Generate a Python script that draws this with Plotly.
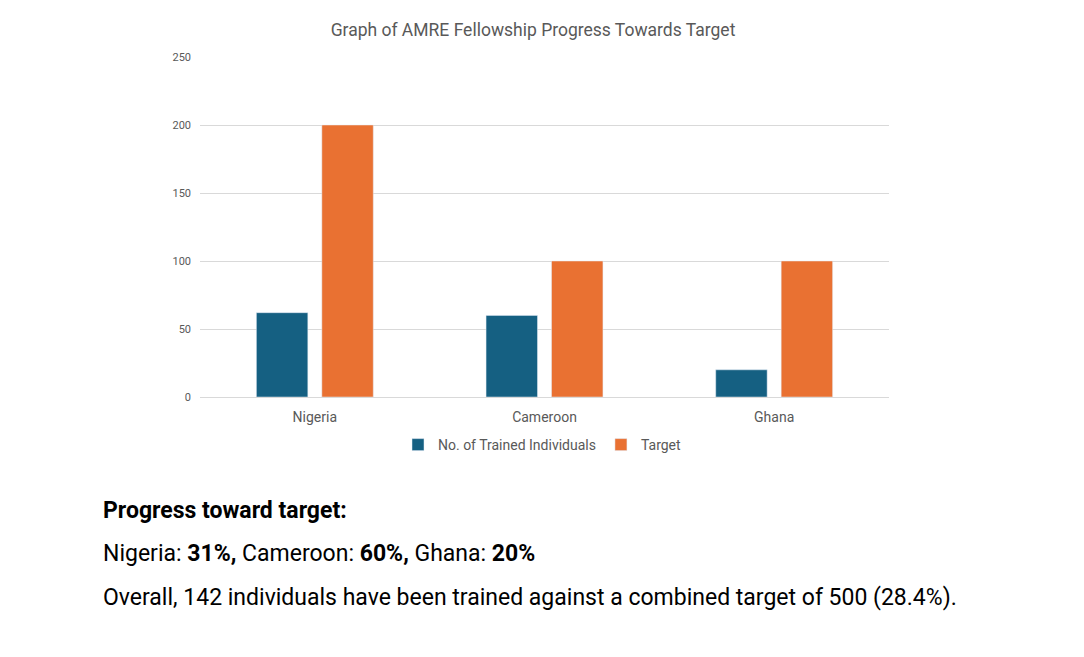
import plotly.graph_objects as go

countries = ["Nigeria", "Cameroon", "Ghana"]
trained = [62, 60, 20]
target = [200, 100, 100]
y_ticks = [0, 50, 100, 150, 200, 250]

progress_pct = ["31%", "60%", "20%"]
summary_heading = "Progress toward target:"
summary_overall = "Overall, 142 individuals have been trained against a combined target of 500 (28.4%)."

BLUE = "#156082"
ORANGE = "#E97132"
GRID = "#D9D9D9"
GREY = "#595959"
FONT = "Roboto"

fig = go.Figure()
fig.add_trace(go.Bar(x=countries, y=trained, name="No. of Trained Individuals", marker_color=BLUE))
fig.add_trace(go.Bar(x=countries, y=target, name="Target", marker_color=ORANGE))

# page has an 8px body margin, so the plot box is shifted back by 8px
fig.update_layout(
    width=1084, height=657,
    margin=dict(l=192, r=203, t=49, b=268),
    paper_bgcolor="white", plot_bgcolor="white",
    barmode="group", bargap=0.43, bargroupgap=0.214,
    font=dict(family=FONT, color=GREY, size=12),
    title=dict(text="Graph of AMRE Fellowship Progress Towards Target",
               x=(533 - 8) / 1084, xanchor="center", y=1 - 22 / 657, yanchor="middle",
               font=dict(size=17.5, color=GREY, family=FONT)),
    legend=dict(orientation="h", x=(398 - 200) / 689, xanchor="left", y=-48 / 340, yanchor="middle",
                font=dict(size=14, color=GREY), traceorder="normal", itemwidth=30),
    showlegend=True,
)
fig.update_yaxes(range=[0, 250], tickvals=y_ticks, showgrid=True, gridcolor=GRID,
                 zeroline=False, ticks="", tickfont=dict(size=11, color=GREY),
                 ticklabelstandoff=8)
fig.update_xaxes(showline=True, linecolor=GRID, linewidth=1, ticks="",
                 tickfont=dict(size=14, color=GREY), ticklabelstandoff=7)

# summary text under the chart
parts = [f"{c}: <b>{p}</b>" for c, p in zip(countries, progress_pct)]
line2 = parts[0] + "<b>,</b> " + parts[1] + "<b>,</b> " + parts[2]


def py(pixel_y):
    return (397 - pixel_y) / 340


for txt, yy in [(f"<b>{summary_heading}</b>", 510), (line2, 553), (summary_overall, 597)]:
    fig.add_annotation(text=txt, xref="paper", yref="paper", x=(101 - 200) / 689, y=py(yy),
                       xanchor="left", yanchor="middle", showarrow=False,
                       font=dict(size=23, color="black", family=FONT))

fig.write_html("out.html")
